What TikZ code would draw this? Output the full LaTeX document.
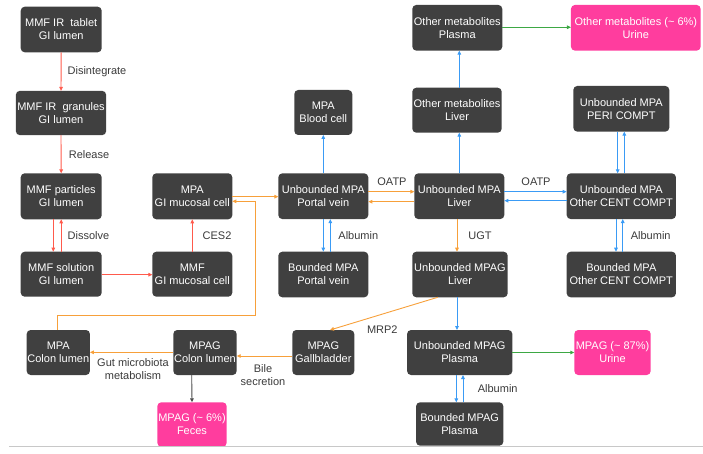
\documentclass[tikz,border=0pt]{standalone}
\usepackage{fontspec}
\setmainfont{Liberation Sans}
\usetikzlibrary{arrows.meta}
\definecolor{boxgray}{HTML}{404040}
\definecolor{boxpink}{HTML}{FF3D9E}
\definecolor{lnred}{HTML}{FF5A4C}
\definecolor{lnorange}{HTML}{F7A03A}
\definecolor{lnblue}{HTML}{3A9BF5}
\definecolor{lngreen}{HTML}{3DA844}
\definecolor{lngray}{HTML}{4A4A4A}
\definecolor{labelgray}{HTML}{3A3A3A}
\definecolor{rulegray}{HTML}{C8C8C8}
\tikzset{
  box/.style={draw=none, fill=boxgray, rounded corners=4pt, text=white,
    align=center, inner sep=0pt, outer sep=0pt,
    font=\fontsize{11}{13}\selectfont},
  pinkbox/.style={box, fill=boxpink},
  lbl/.style={text=labelgray, align=center, inner sep=0pt,
    font=\fontsize{11}{13}\selectfont},
  conn/.style={line width=0.9pt, -{Triangle[length=4pt,width=3.6pt]}},
  redline/.style={conn, lnred},
  orangeline/.style={conn, lnorange},
  blueline/.style={conn, lnblue},
  greenline/.style={conn, lngreen},
  grayline/.style={conn, lngray},
}
\begin{document}
\begin{tikzpicture}[x=1pt, y=-1pt]
\useasboundingbox (0,0) rectangle (703,454);

% --- boxes ---
\node[box, minimum width=81pt, minimum height=45.6pt] (tablet) at (61.2,29.5) {MMF IR\ \ tablet\\GI lumen};
\node[box, minimum width=90.3pt, minimum height=44.3pt] (granules) at (61,113) {MMF IR\ \ granules\\GI lumen};
\node[box, minimum width=81pt, minimum height=46pt] (particles) at (61.2,196.3) {MMF particles\\GI lumen};
\node[box, minimum width=80pt, minimum height=46pt] (mpamuc) at (192.3,196.3) {MPA\\GI mucosal cell};
\node[box, minimum width=81pt, minimum height=45pt] (solution) at (61.2,274.2) {MMF solution\\GI lumen};
\node[box, minimum width=80pt, minimum height=45pt] (mmfmuc) at (192.3,274.2) {MMF\\GI mucosal cell};

\node[box, minimum width=58pt, minimum height=45pt] (blood) at (323.3,112.5) {MPA\\Blood cell};
\node[box, minimum width=90pt, minimum height=45.7pt] (portal) at (323.3,196.2) {Unbounded MPA\\Portal vein};
\node[box, minimum width=90pt, minimum height=45.6pt] (bportal) at (323.3,274.5) {Bounded MPA\\Portal vein};

\node[box, minimum width=90pt, minimum height=45.7pt] (othplasma) at (457.3,27.8) {Other metabolites\\Plasma};
\node[pinkbox, minimum width=129.7pt, minimum height=45.7pt] (othurine) at (635.8,27.8) {Other metabolites (\textasciitilde\ 6\%)\\Urine};
\node[box, minimum width=89.4pt, minimum height=45pt] (othliver) at (457,110.2) {Other metabolites\\Liver};
\node[box, minimum width=90pt, minimum height=45.7pt] (liver) at (459.3,196.2) {Unbounded MPA\\Liver};
\node[box, minimum width=95.4pt, minimum height=45.6pt] (mpagliver) at (460,274.5) {Unbounded MPAG\\Liver};

\node[box, minimum width=96pt, minimum height=45.7pt] (peri) at (621.3,108.8) {Unbounded MPA\\PERI COMPT};
\node[box, minimum width=109.3pt, minimum height=45.7pt] (cent) at (621.3,196.2) {Unbounded MPA\\Other CENT COMPT};
\node[box, minimum width=109.3pt, minimum height=45.6pt] (bcent) at (621.3,274.5) {Bounded MPA\\Other CENT COMPT};

\node[box, minimum width=63.3pt, minimum height=45pt] (colonmpa) at (58.3,352.5) {MPA\\Colon lumen};
\node[box, minimum width=63.4pt, minimum height=45pt] (colonmpag) at (205,352.5) {MPAG\\Colon lumen};
\node[pinkbox, minimum width=69.4pt, minimum height=44.4pt] (feces) at (192,424.5) {MPAG (\textasciitilde\ 6\%)\\Feces};
\node[box, minimum width=62pt, minimum height=45pt] (gall) at (323.3,352.5) {MPAG\\Gallbladder};
\node[box, minimum width=105.3pt, minimum height=45pt] (plasma) at (459.7,352.5) {Unbounded MPAG\\Plasma};
\node[pinkbox, minimum width=76.4pt, minimum height=45pt] (urine) at (612.5,352.5) {MPAG (\textasciitilde\ 87\%)\\Urine};
\node[box, minimum width=87.3pt, minimum height=43.4pt] (bplasma) at (459.7,424) {Bounded MPAG\\Plasma};

% --- oral absorption (red) ---
\draw[redline] (tablet.south) -- (granules.north);
\draw[redline] (granules.south) -- (particles.north);
\draw[redline] ([xshift=-7.9pt]particles.south) -- ([xshift=-7.9pt]solution.north);
\draw[redline] (solution.north) -- (particles.south);
\draw[redline] ([yshift=-0.5pt]solution.east) -- ([yshift=-0.5pt]mmfmuc.west);
\draw[redline] (mmfmuc.north) -- (mpamuc.south);

% --- MPA transport (orange) ---
\draw[orangeline] ([yshift=-0.4pt]mpamuc.east) -- ([yshift=-0.5pt]portal.west);
\coordinate (recirc) at (255.3,315);
\draw[orangeline] ([xshift=-1.3pt]colonmpa.north) |- (recirc) |- ([yshift=-5pt]mpamuc.east);
\draw[orangeline] ([yshift=4.5pt]portal.east) -- ([yshift=4.5pt]liver.west);
\draw[orangeline] ([yshift=-5.5pt]liver.west) -- ([yshift=-5.5pt]portal.east);
\draw[orangeline] ([xshift=-2.3pt]liver.south) -- ([xshift=-3pt]mpagliver.north);
\draw[orangeline] ([xshift=-22.3pt]mpagliver.south) -- ([xshift=6.7pt]gall.north);
\draw[orangeline] ([yshift=-3.5pt]gall.west) -- ([yshift=-3.5pt]colonmpag.east);
\draw[orangeline] ([yshift=0.2pt]colonmpag.west) -- ([yshift=0.2pt]colonmpa.east);

% --- distribution (blue) ---
\draw[blueline] (portal.north) -- (blood.south);
\draw[blueline] (portal.south) -- (bportal.north);
\draw[blueline] ([xshift=7pt]bportal.north) -- ([xshift=7pt]portal.south);
\draw[blueline] (liver.north) -- ([xshift=2.3pt]othliver.south);
\draw[blueline] ([xshift=2.3pt]othliver.north) -- ([xshift=2pt]othplasma.south);
\draw[blueline] ([yshift=4.5pt]liver.east) -- ([yshift=4.5pt]cent.west);
\draw[blueline] ([yshift=-4.5pt]cent.west) -- ([yshift=-4.5pt]liver.east);
\draw[blueline] ([xshift=-3.6pt]peri.south) -- ([xshift=-3.6pt]cent.north);
\draw[blueline] ([xshift=3pt]cent.north) -- ([xshift=3pt]peri.south);
\draw[blueline] ([xshift=-5.3pt]cent.south) -- ([xshift=-5.3pt]bcent.north);
\draw[blueline] ([xshift=1.4pt]bcent.north) -- ([xshift=1.4pt]cent.south);
\draw[blueline] ([xshift=-3pt]mpagliver.south) -- ([xshift=-2.7pt]plasma.north);
\draw[blueline] ([xshift=-3.4pt]plasma.south) -- ([xshift=-3.4pt]bplasma.north);
\draw[blueline] ([xshift=3.3pt]bplasma.north) -- ([xshift=3.3pt]plasma.south);

% --- excretion ---
\draw[greenline] ([yshift=0.5pt]othplasma.east) -- ([yshift=0.5pt]othurine.west);
\draw[greenline] (plasma.east) -- (urine.west);
\draw[grayline] ([xshift=-13.3pt]colonmpag.south) -- (feces.north);

% --- labels ---
\node[lbl] (lDis) at (97,72) {Disintegrate};
\node[lbl] (lRel) at (89,155) {Release};
\node[lbl] (lDiss) at (88.5,236) {Dissolve};
\node[lbl] (lCes) at (217,236) {CES2};
\node[lbl] (lOatp1) at (392,181.5) {OATP};
\node[lbl] (lOatp2) at (536,181.5) {OATP};
\node[lbl] (lAlb1) at (358.3,236) {Albumin};
\node[lbl] (lUgt) at (480,236) {UGT};
\node[lbl] (lAlb2) at (650.7,236) {Albumin};
\node[lbl] (lMrp) at (382.3,330) {MRP2};
\node[lbl] (lAlb3) at (497.7,389) {Albumin};
\node[lbl] (lGut) at (133,369) {Gut microbiota\\metabolism};
\node[lbl] (lBile) at (263,375.5) {Bile\\secretion};

% --- footer rule ---
\draw[rulegray, line width=1pt] (9,446) -- (703,446);
\end{tikzpicture}
\end{document}
